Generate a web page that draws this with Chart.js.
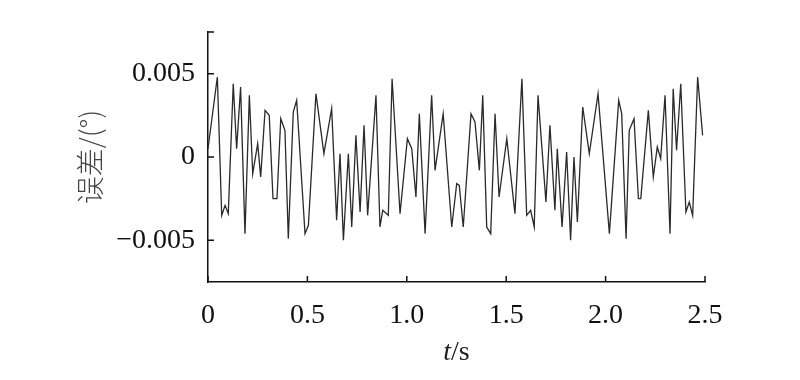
<!DOCTYPE html>
<html>
<head>
<meta charset="utf-8">
<script src="https://cdn.jsdelivr.net/npm/chart.js@4"></script>
<style>
  body { margin: 0; background: #fff; }
</style>
</head>
<body>
<canvas id="errChart" width="800" height="380"></canvas>
<script>
// time (s) of each vertex
let timeArr = [0, 0.024, 0.047, 0.069, 0.086, 0.102, 0.127, 0.144, 0.164, 0.186,
  0.208, 0.225, 0.250, 0.265, 0.287, 0.308, 0.327, 0.347, 0.366, 0.387,
  0.404, 0.429, 0.446, 0.488, 0.505, 0.543, 0.583, 0.622, 0.647, 0.664,
  0.681, 0.706, 0.723, 0.744, 0.765, 0.785, 0.803, 0.845, 0.865, 0.879,
  0.907, 0.926, 0.966, 1.003, 1.025, 1.046, 1.063, 1.092, 1.125, 1.142,
  1.183, 1.226, 1.251, 1.264, 1.284, 1.323, 1.343, 1.365, 1.382, 1.402,
  1.422, 1.444, 1.464, 1.503, 1.544, 1.579, 1.603, 1.623, 1.641, 1.660,
  1.700, 1.720, 1.745, 1.757, 1.781, 1.804, 1.824, 1.841, 1.858, 1.885,
  1.918, 1.962, 2.019, 2.066, 2.081, 2.103, 2.119, 2.143, 2.165, 2.177,
  2.215, 2.240, 2.260, 2.277, 2.299, 2.324, 2.340, 2.357, 2.378, 2.404,
  2.421, 2.438, 2.463, 2.488];

// error (deg)
let errArr = [0.0005, 0.0027, 0.0048, -0.0035, -0.0029, -0.0034, 0.0044, 0.0005, 0.0042, -0.0046,
  0.0037, -0.0010, 0.0008, -0.0012, 0.0028, 0.0025, -0.0025, -0.0025, 0.0023, 0.0016,
  -0.0049, 0.0027, 0.0034, -0.0046, -0.0041, 0.0038, 0.0002, 0.0029, -0.0038, 0.0002,
  -0.0050, 0.0002, -0.0042, 0.0013, -0.0033, 0.0019, -0.0035, 0.0037, -0.0042, -0.0032,
  -0.0035, 0.0047, -0.0034, 0.0011, 0.0005, -0.0024, 0.0026, -0.0046, 0.0037, -0.0008,
  0.0026, -0.0042, -0.0016, -0.0017, -0.0042, 0.0026, 0.0021, -0.0008, 0.0037, -0.0042,
  -0.0046, 0.0026, -0.0024, 0.0011, -0.0034, 0.0047, -0.0035, -0.0032, -0.0042, 0.0037,
  -0.0027, 0.0019, -0.0032, 0.0005, -0.0042, 0.0003, -0.0050, 0.0000, -0.0039, 0.0030,
  0.0002, 0.0038, -0.0046, 0.0034, 0.0026, -0.0049, 0.0016, 0.0023, -0.0025, -0.0025,
  0.0028, -0.0012, 0.0006, -0.0001, 0.0037, -0.0046, 0.0041, 0.0004, 0.0044, -0.0033,
  -0.0027, -0.0035, 0.0048, 0.0013];

let yTicks = [-0.005, 0, 0.005];
let yLabels = ['\u22120.005', '0', '0.005'];
let xTicks = [0, 0.5, 1.0, 1.5, 2.0, 2.5];
let xLabels = ['0', '0.5', '1.0', '1.5', '2.0', '2.5'];

const serif = "'Liberation Serif', 'Times New Roman', serif";

// inward tick marks + x title with italic t
const tickPlugin = {
    id: 'inTicks',
    afterDraw(chart) {
        const ctx = chart.ctx;
        const xs = chart.scales.x, ys = chart.scales.y;
        const area = chart.chartArea;
        ctx.save();
        ctx.strokeStyle = '#111';
        ctx.lineWidth = 1.5;
        ctx.beginPath();
        xTicks.forEach(v => {
            const px = xs.getPixelForValue(v);
            ctx.moveTo(px, area.bottom);
            ctx.lineTo(px, area.bottom - 6);
        });
        yTicks.concat([ys.max]).forEach(v => {
            const py = ys.getPixelForValue(v);
            ctx.moveTo(area.left, py);
            ctx.lineTo(area.left + 6, py);
        });
        ctx.stroke();

        // x axis title
        ctx.fillStyle = '#222';
        ctx.textBaseline = 'middle';
        const cx = (area.left + area.right) / 2;
        ctx.font = 'italic 28px ' + serif;
        const w1 = ctx.measureText('t').width;
        ctx.font = '28px ' + serif;
        const w2 = ctx.measureText('/s').width;
        let x0 = cx - (w1 + w2) / 2;
        ctx.font = 'italic 28px ' + serif;
        ctx.fillText('t', x0, 353);
        ctx.font = '28px ' + serif;
        ctx.fillText('/s', x0 + w1, 353);
        ctx.restore();
    }
};

const ctx = document.getElementById('errChart').getContext('2d');

const errChart = new Chart(ctx, {
    type: 'line',
    data: {
        datasets: [{
            label: 'error',
            data: timeArr.map((t, i) => ({ x: t, y: errArr[i] })),
            borderColor: '#2a2a2a',
            borderWidth: 1.3,
            pointRadius: 0,
            tension: 0,
            fill: false
        }]
    },
    options: {
        responsive: false,
        animation: false,
        layout: {
            padding: { left: 70, right: 95, top: 32, bottom: 0 }
        },
        plugins: {
            legend: { display: false },
            tooltip: { enabled: false }
        },
        scales: {
            x: {
                type: 'linear',
                min: 0,
                max: 2.5,
                afterBuildTicks: s => { s.ticks = xTicks.map(v => ({ value: v })); },
                afterFit: s => { s.height = 98; },
                grid: { display: false, drawTicks: false },
                border: { display: true, color: '#111', width: 1.5 },
                ticks: {
                    padding: 17,
                    maxRotation: 0,
                    color: '#111',
                    font: { family: serif, size: 28 },
                    callback: (v) => xLabels[xTicks.indexOf(v)]
                }
            },
            y: {
                min: -0.0075,
                max: 0.0075,
                afterBuildTicks: s => { s.ticks = yTicks.map(v => ({ value: v })); },
                afterFit: s => { s.width = 138; },
                grid: { display: false, drawTicks: false },
                border: { display: true, color: '#111', width: 1.5 },
                ticks: {
                    padding: 13,
                    color: '#111',
                    font: { family: serif, size: 28 },
                    callback: (v) => yLabels[yTicks.indexOf(v)]
                },
                title: {
                    display: true,
                    text: '误差/(°)',
                    color: '#444',
                    padding: { top: 4, bottom: 0 },
                    font: { family: "'Noto Sans CJK SC', sans-serif", size: 28, weight: 300 }
                }
            }
        }
    },
    plugins: [tickPlugin]
});
</script>
</body>
</html>
